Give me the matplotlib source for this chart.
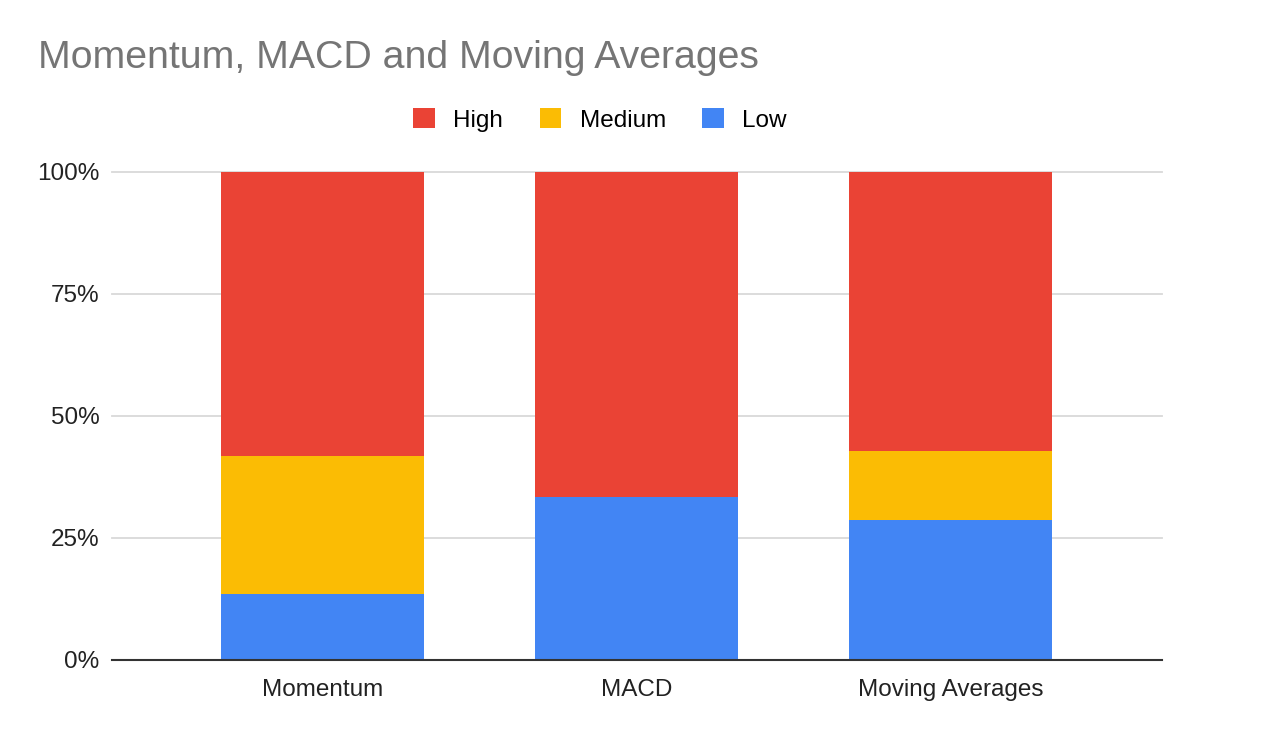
import matplotlib.pyplot as plt
import numpy as np
from matplotlib.patches import Patch

plt.rcParams['font.family'] = ['Liberation Sans', 'DejaVu Sans']

# data (share of each level, in %)
categories = ['Momentum', 'MACD', 'Moving Averages']
low = [13.5, 33.3, 28.6]
medium = [28.3, 0.0, 14.3]
high = [58.2, 66.7, 57.1]

series_names = ['High', 'Medium', 'Low']
colors = {'High': '#ea4335', 'Medium': '#fbbc04', 'Low': '#4285f4'}

fig = plt.figure(figsize=(12.84, 7.38), dpi=100)
ax = fig.add_axes([112 / 1284, 78 / 738, 1050 / 1284, 488 / 738])

x = np.arange(len(categories))
w = 0.647
ax.bar(x, low, w, color=colors['Low'], zorder=2)
ax.bar(x, medium, w, bottom=low, color=colors['Medium'], zorder=2)
ax.bar(x, high, w, bottom=np.array(low) + np.array(medium), color=colors['High'], zorder=2)

ax.set_xlim(-0.67, 2.674)
ax.set_ylim(0, 100)
ax.set_yticks([0, 25, 50, 75, 100])
ax.set_yticklabels(['0%', '25%', '50%', '75%', '100%'])
ax.set_xticks(x)
ax.set_xticklabels(categories)

for yv in [25, 50, 75, 100]:
    ax.axhline(yv, color='#d9d9d9', lw=1.3, zorder=1, clip_on=False)
ax.axhline(0, color='#333333', lw=1.5, zorder=3, clip_on=False)

for s in ax.spines.values():
    s.set_visible(False)
ax.tick_params(axis='both', length=0, labelsize=17.5, labelcolor='#222222')
ax.tick_params(axis='y', pad=9)
ax.tick_params(axis='x', pad=14)

fig.text(38 / 1284, 1 - 58 / 738, 'Momentum, MACD and Moving Averages',
         fontsize=28.3, color='#757575', ha='left', va='center')

handles = [Patch(facecolor=colors[n], edgecolor='none', label=n) for n in series_names]
fig.legend(handles=handles, loc='center', bbox_to_anchor=(600 / 1284, 1 - 120 / 738),
           ncol=3, frameon=False, fontsize=17.5, handlelength=0.9, handleheight=0.9,
           handletextpad=0.75, columnspacing=1.5)

fig.savefig('out.png', dpi=100, facecolor='white')
